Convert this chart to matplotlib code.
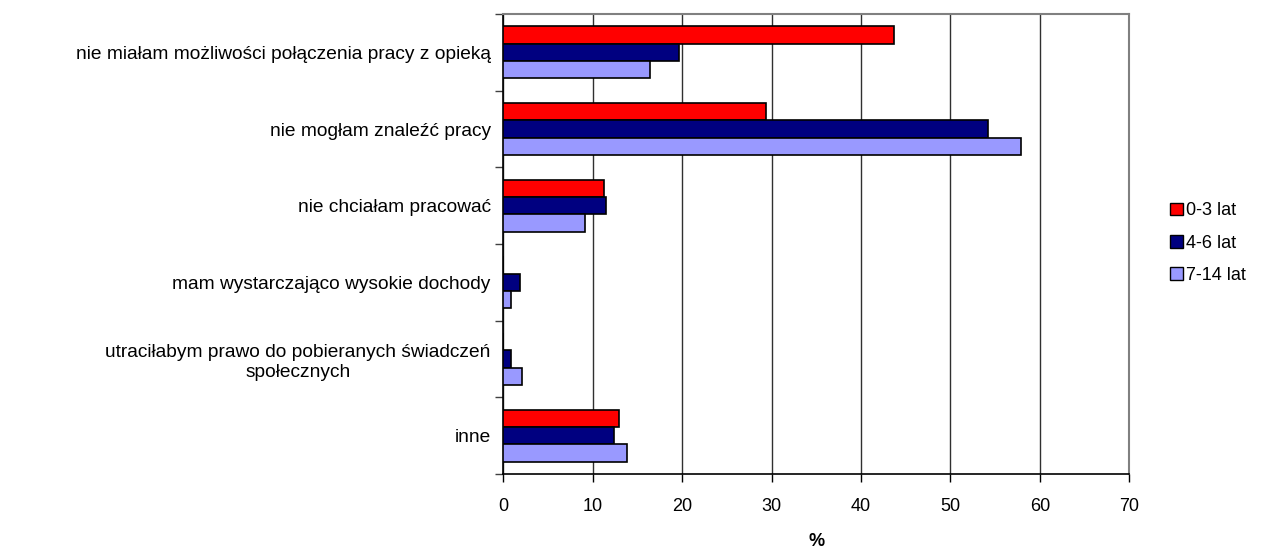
import matplotlib
matplotlib.use("Agg")
import matplotlib.pyplot as plt
from matplotlib.patches import Patch
from matplotlib.ticker import FixedLocator

plt.rcParams['font.family'] = ['Liberation Sans', 'DejaVu Sans']

categories = [
    "nie miałam możliwości połączenia pracy z opieką",
    "nie mogłam znaleźć pracy",
    "nie chciałam pracować",
    "mam wystarczająco wysokie dochody",
    "utraciłabym prawo do pobieranych świadczeń\nspołecznych",
    "inne",
]
series_names = ["0-3 lat", "4-6 lat", "7-14 lat"]
vals_0_3 = [43.7, 29.4, 11.3, 0.0, 0.0, 12.9]
vals_4_6 = [19.7, 54.2, 11.5, 1.9, 0.9, 12.4]
vals_7_14 = [16.4, 57.9, 9.1, 0.9, 2.1, 13.8]
colors = ["#FF0000", "#000080", "#9999FF"]
x_ticks = [0, 10, 20, 30, 40, 50, 60, 70]

fig = plt.figure(figsize=(12.64, 5.51), dpi=100)
ax = fig.add_axes([503.3 / 1264, 1 - 474 / 551, (1129.3 - 503.3) / 1264, (474 - 14) / 551])

h = 0.226
ypos = list(range(len(categories)))
for k, (vals, col) in enumerate(zip([vals_0_3, vals_4_6, vals_7_14], colors)):
    off = (k - 1) * h
    ax.barh([y + off for y in ypos], vals, height=h, color=col,
            edgecolor="black", linewidth=1.2, zorder=3)

ax.set_xlim(0, 70)
ax.set_ylim(len(categories) - 0.5, -0.5)
ax.set_xticks(x_ticks)
ax.set_xticklabels([str(t) for t in x_ticks], fontsize=13)
ax.set_yticks(ypos)
ax.set_yticklabels(categories, fontsize=13.8, multialignment="center")
ax.tick_params(axis="y", which="major", length=0, pad=9)
ax.yaxis.set_minor_locator(FixedLocator([y - 0.5 for y in range(len(categories) + 1)]))
ax.tick_params(axis="y", which="minor", length=6, width=1, color="#404040", direction="out")
ax.tick_params(axis="x", which="major", length=6, width=1, direction="out", pad=11)

ax.grid(axis="x", color="#303030", linewidth=1.0, zorder=0)
ax.set_axisbelow(True)
for s in ["top", "right"]:
    ax.spines[s].set_color("#808080")
    ax.spines[s].set_linewidth(1.5)
ax.spines["left"].set_color("black")
ax.spines["bottom"].set_color("black")
ax.spines["left"].set_linewidth(1.2)
ax.spines["bottom"].set_linewidth(1.2)

fig.text(817 / 1264, 1 - 542 / 551, "%", fontsize=13, fontweight="bold",
         ha="center", va="center")

handles = [Patch(facecolor=c, edgecolor="black", linewidth=1) for c in colors]
fig.legend(handles, series_names, loc="center left", bbox_to_anchor=(1163 / 1264, 1 - 243 / 551),
           frameon=False, fontsize=13, handlelength=0.7, handleheight=0.7,
           handletextpad=0.15, labelspacing=0.85, borderaxespad=0)

fig.savefig("out.png", dpi=100)
